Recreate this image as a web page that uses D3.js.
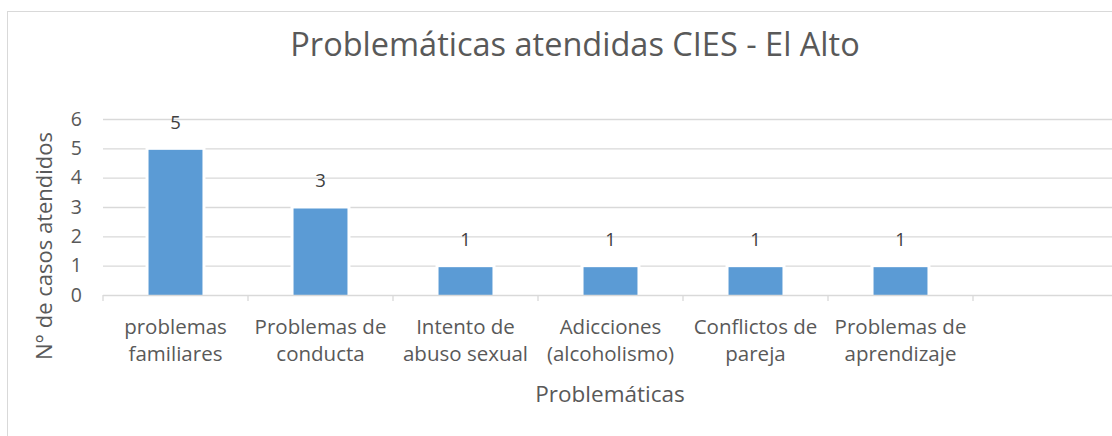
<!DOCTYPE html>
<html><head><meta charset="utf-8">
<script src="https://cdn.jsdelivr.net/npm/d3@7/dist/d3.min.js"></script>
<style>body{margin:0;background:#fff}svg{display:block}text{font-family:"Open Sans",sans-serif}</style>
</head><body><svg id="c" width="1112" height="436"></svg>
<script>
const categories = [["problemas","familiares"],["Problemas de","conducta"],["Intento de","abuso sexual"],["Adicciones","(alcoholismo)"],["Conflictos de","pareja"],["Problemas de","aprendizaje"],["",""]];
const values = [5,3,1,1,1,1,null];
const yTicks = [0,1,2,3,4,5,6];
const title = "Problemáticas atendidas CIES - El Alto";
const xTitle = "Problemáticas";
const yTitle = "N° de casos atendidos";

const svg = d3.select("#c");
svg.append("rect").attr("x",7.5).attr("y",11.5).attr("width",1200).attr("height",600)
  .attr("fill","#fff").attr("stroke","#d9d9d9");

const x = d3.scaleBand().domain(d3.range(categories.length)).range([103,1118]).paddingInner(0.628).paddingOuter(0.314);
const y = d3.scaleLinear().domain([0,6]).range([295,119]);

// gridlines
svg.append("g").selectAll("line").data(yTicks.filter(d=>d>0)).join("line")
  .attr("x1",103).attr("x2",1118).attr("y1",d=>y(d)+0.5).attr("y2",d=>y(d)+0.5)
  .attr("stroke","#d9d9d9").attr("stroke-width",1.3);

const data = values.map((v,i)=>({v,i})).filter(d=>d.v!=null);
// white halo behind bars
svg.append("g").selectAll("rect").data(data).join("rect")
  .attr("x",d=>x(d.i)-3).attr("width",x.bandwidth()+6)
  .attr("y",d=>y(d.v)-1).attr("height",d=>y(0)-y(d.v)+1).attr("fill","#fff");
svg.append("g").selectAll("rect").data(data).join("rect")
  .attr("x",d=>x(d.i)).attr("width",x.bandwidth())
  .attr("y",d=>y(d.v)+1.5).attr("height",d=>y(0)-y(d.v)-1.5).attr("fill","#5b9bd5");

// x axis
svg.append("line").attr("x1",103).attr("x2",1118).attr("y1",y(0)+0.5).attr("y2",y(0)+0.5).attr("stroke","#d9d9d9").attr("stroke-width",1.3);
const bounds = d3.range(categories.length+1).map(i=>103+i*x.step());
svg.append("g").selectAll("line").data(bounds).join("line")
  .attr("x1",d=>d).attr("x2",d=>d).attr("y1",y(0)).attr("y2",y(0)+6)
  .attr("stroke","#d9d9d9").attr("stroke-width",1.3);

// y tick labels
svg.append("g").selectAll("text").data(yTicks).join("text")
  .attr("x",82).attr("y",d=>y(d)).attr("dy","0.35em").attr("text-anchor","end")
  .attr("font-size",19.5).attr("fill","#595959").text(d=>d);

// category labels
const cg = svg.append("g").selectAll("g").data(categories).join("g")
  .attr("transform",(d,i)=>`translate(${x(i)+x.bandwidth()/2},0)`);
cg.append("text").attr("y",327).attr("dy","0.35em").attr("text-anchor","middle").attr("font-size",20.5).attr("fill","#595959").text(d=>d[0]);
cg.append("text").attr("y",354).attr("dy","0.35em").attr("text-anchor","middle").attr("font-size",20.5).attr("fill","#595959").text(d=>d[1]);

// data labels
svg.append("g").selectAll("text").data(data).join("text")
  .attr("x",d=>x(d.i)+x.bandwidth()/2).attr("y",d=>y(d.v)-26).attr("dy","0.35em")
  .attr("text-anchor","middle").attr("font-size",18.5).attr("fill","#404040").text(d=>d.v);

// titles
svg.append("text").attr("x",575).attr("y",45).attr("dy","0.35em").attr("text-anchor","middle")
  .attr("font-size",32.5).attr("fill","#595959").text(title);
svg.append("text").attr("x",610).attr("y",394).attr("dy","0.35em").attr("text-anchor","middle")
  .attr("font-size",22.5).attr("fill","#595959").text(xTitle);
svg.append("text").attr("transform","translate(44,246) rotate(-90)").attr("dy","0.35em").attr("text-anchor","middle")
  .attr("font-size",22).attr("fill","#595959").text(yTitle);
</script></body></html>
